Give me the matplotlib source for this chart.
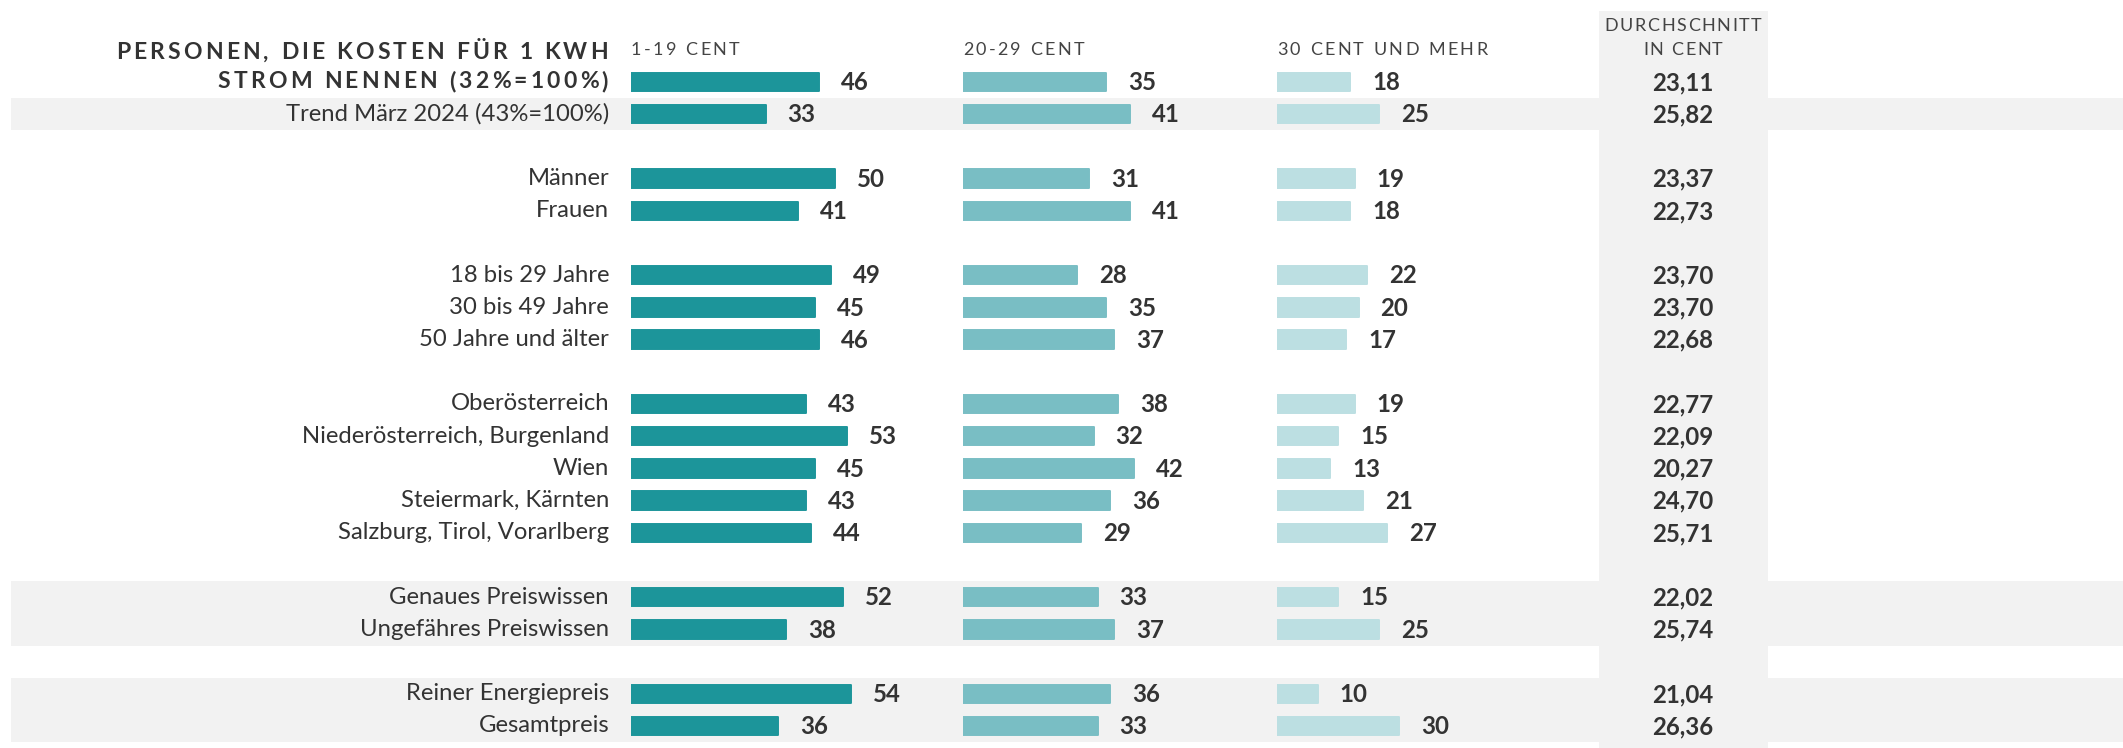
import matplotlib
matplotlib.use("Agg")
import matplotlib.pyplot as plt
from matplotlib.font_manager import FontProperties

# ---------------- data ----------------
title_lines = ["PERSONEN, DIE KOSTEN FÜR 1 KWH", "STROM NENNEN (32%=100%)"]
col_headers = ["1-19 CENT", "20-29 CENT", "30 CENT UND MEHR"]
avg_header = ["DURCHSCHNITT", "IN CENT"]

row_labels = ["", "Trend März 2024 (43%=100%)",
              "Männer", "Frauen",
              "18 bis 29 Jahre", "30 bis 49 Jahre", "50 Jahre und älter",
              "Oberösterreich", "Niederösterreich, Burgenland", "Wien",
              "Steiermark, Kärnten", "Salzburg, Tirol, Vorarlberg",
              "Genaues Preiswissen", "Ungefähres Preiswissen",
              "Reiner Energiepreis", "Gesamtpreis"]
row_slots = [0, 1, 3, 4, 6, 7, 8, 10, 11, 12, 13, 14, 16, 17, 19, 20]
shaded_slots = [1, 16, 17, 19, 20]

cent_1_19 = [46, 33, 50, 41, 49, 45, 46, 43, 53, 45, 43, 44, 52, 38, 54, 36]
cent_20_29 = [35, 41, 31, 41, 28, 35, 37, 38, 32, 42, 36, 29, 33, 37, 36, 33]
cent_30_plus = [18, 25, 19, 18, 22, 20, 17, 19, 15, 13, 21, 27, 15, 25, 10, 30]
avg_cent = ["23,11", "25,82", "23,37", "22,73", "23,70", "23,70", "22,68",
            "22,77", "22,09", "20,27", "24,70", "25,71", "22,02", "25,74",
            "21,04", "26,36"]

# ---------------- style / layout ----------------
W, H, DPI = 2123, 748, 100
colors = ["#1c959a", "#79bec4", "#bcdfe2"]
band = "#f2f2f2"
txt = "#333333"
hdr_col = "#444444"
FONT = "Lato"

fig = plt.figure(figsize=(W / DPI, H / DPI), dpi=DPI)
fig.patch.set_facecolor("white")

PX_PER_UNIT = 4.08
ROW0_PX, ROW_PX = 82, 32.2
y_top = -ROW0_PX / ROW_PX
y_bot = (H - ROW0_PX) / ROW_PX

bg = fig.add_axes([0, 0, 1, 1], zorder=0)
bg.set_xlim(0, W)
bg.set_ylim(y_bot, y_top)
bg.axis("off")

# shaded row bands
for s in shaded_slots:
    bg.axhspan(s - 0.5, s + 0.5, xmin=11 / W, xmax=1, color=band, lw=0, zorder=0)
# average column band
bg.axvspan(1599, 1768, ymin=0, ymax=1 - 11 / H, color=band, lw=0, zorder=0)

renderer = fig.canvas.get_renderer()


def spaced_text(ax, x, y, s, size, weight, color, spacing, ha="left"):
    prop = FontProperties(family=FONT, size=size, weight=weight)
    widths = [renderer.get_text_width_height_descent(c, prop, ismath=False)[0]
              for c in s]
    total = sum(widths) + spacing * (len(s) - 1)
    if ha == "right":
        start = x - total
    elif ha == "center":
        start = x - total / 2
    else:
        start = x
    cx = start
    for c, w in zip(s, widths):
        ax.text(cx, y, c, fontproperties=prop, color=color, ha="left",
                va="center", zorder=5)
        cx += w + spacing


# title
spaced_text(bg, 608, -0.93, title_lines[0], 16.5, "bold", txt, 3.2, ha="right")
spaced_text(bg, 608, 0.0, title_lines[1], 16.5, "bold", txt, 3.2, ha="right")

# row labels
for lab, s in zip(row_labels, row_slots):
    if lab:
        bg.text(609, s, lab, family=FONT, size=17.2, color=txt, ha="right",
                va="center", zorder=5)

# bar columns
col_x = [631, 963, 1277]
col_w = 300
for ci, (vals, cx) in enumerate(zip([cent_1_19, cent_20_29, cent_30_plus], col_x)):
    ax = fig.add_axes([cx / W, 0, col_w / W, 1], zorder=2)
    ax.patch.set_alpha(0)
    ax.set_xlim(0, col_w / PX_PER_UNIT)
    ax.set_ylim(y_bot, y_top)
    ax.axis("off")
    bars = ax.barh(row_slots, vals, height=18.5 / ROW_PX, color=colors[ci],
                   edgecolor=colors[ci], linewidth=1.4)
    for b in bars:
        b.set_joinstyle("round")
    for v, s in zip(vals, row_slots):
        ax.text(v + 22 / PX_PER_UNIT, s + 0.02, str(v), family=FONT, size=17.3,
                weight="bold", color=txt, ha="left", va="center")
    spaced_text(bg, cx, -1.0, col_headers[ci], 13, "normal", hdr_col, 2.4)

# average column
spaced_text(bg, 1683, -1.73, avg_header[0], 13, "normal", hdr_col, 1.6, ha="center")
spaced_text(bg, 1683, -1.0, avg_header[1], 13, "normal", hdr_col, 1.6, ha="center")
for v, s in zip(avg_cent, row_slots):
    bg.text(1683, s + 0.02, v, family=FONT, size=17.3, weight="bold", color=txt,
            ha="center", va="center", zorder=5)

fig.savefig("out.png", dpi=DPI, facecolor="white")
